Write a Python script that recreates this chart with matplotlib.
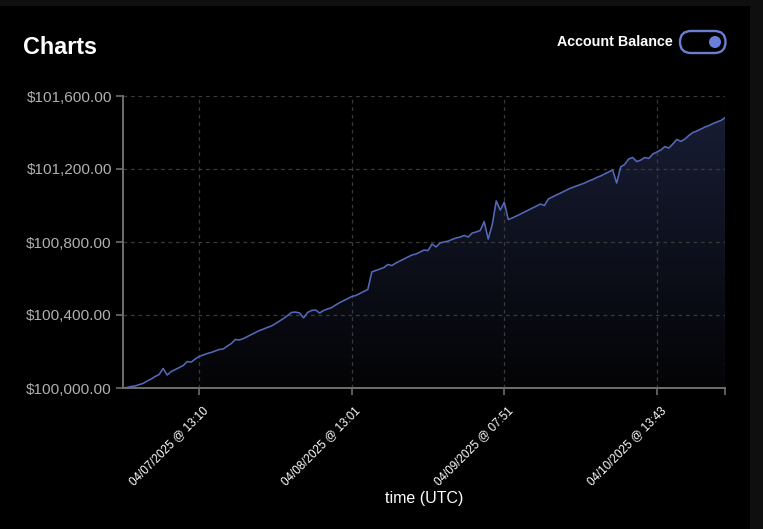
import matplotlib
matplotlib.use("Agg")
import matplotlib.pyplot as plt
import matplotlib.transforms as mtransforms
from matplotlib.patches import FancyBboxPatch, Circle, Rectangle
from matplotlib.ticker import FuncFormatter
from matplotlib.colors import LinearSegmentedColormap
import numpy as np

plt.rcParams['font.family'] = ['Liberation Sans', 'DejaVu Sans']

# Account balance series (equally spaced samples, categorical time axis)
balance = [
    100000, 100003, 100008, 100011, 100018, 100025, 100038, 100049, 100063, 100074,
    100107, 100071, 100090, 100101, 100112, 100123, 100145, 100142, 100159, 100173,
    100181, 100189, 100195, 100203, 100211, 100214, 100230, 100244, 100266, 100263,
    100271, 100282, 100293, 100304, 100315, 100323, 100332, 100340, 100353, 100367,
    100381, 100397, 100414, 100416, 100411, 100384, 100414, 100425, 100427, 100411,
    100425, 100433, 100441, 100455, 100468, 100479, 100490, 100501, 100507, 100518,
    100529, 100540, 100636, 100644, 100652, 100660, 100677, 100671, 100685, 100696,
    100707, 100718, 100729, 100734, 100745, 100756, 100753, 100789, 100773, 100795,
    100800, 100805, 100814, 100822, 100827, 100836, 100827, 100849, 100855, 100863,
    100912, 100816, 100895, 101025, 100975, 101018, 100923, 100932, 100942, 100953,
    100964, 100975, 100986, 100997, 101008, 101000, 101036, 101047, 101058, 101068,
    101079, 101090, 101099, 101107, 101115, 101123, 101134, 101142, 101153, 101162,
    101173, 101184, 101195, 101123, 101211, 101225, 101255, 101263, 101241, 101249,
    101263, 101258, 101282, 101293, 101304, 101323, 101315, 101337, 101362, 101351,
    101364, 101384, 101400, 101408, 101419, 101430, 101438, 101449, 101458, 101466,
    101481,
]
tick_index = [19, 57, 95, 133]
tick_labels = ["04/07/2025 @ 13:10", "04/08/2025 @ 13:01",
               "04/09/2025 @ 07:51", "04/10/2025 @ 13:43"]
y_ticks = [100000, 100400, 100800, 101200, 101600]

W, H = 763, 529
fig = plt.figure(figsize=(W / 100, H / 100), dpi=100)
fig.patch.set_facecolor('#0f0f0f')

# panel background
fig.add_artist(Rectangle((0, 0), 750 / W, 1 - 6 / H, transform=fig.transFigure,
                         facecolor='#000000', edgecolor='none', zorder=0))

ax = fig.add_axes([123 / W, 1 - 388 / H, (725 - 123) / W, (388 - 96) / H])
ax.set_facecolor('none')

x = np.arange(len(balance))
y = np.array(balance, dtype=float)
n_last = len(balance) - 1

# gradient fill under the line
line_color = '#5468b8'
grad = np.linspace(0, 1, 256).reshape(-1, 1)
cmap = LinearSegmentedColormap.from_list('g', ['#040406', '#171c33'])
im = ax.imshow(grad, aspect='auto', cmap=cmap, origin='lower',
               extent=[0, n_last, 100000, y.max()], zorder=1)
poly = ax.fill_between(x, 100000, y, facecolor='none', edgecolor='none')
im.set_clip_path(poly.get_paths()[0], transform=ax.transData)
ax.set_ylim(100000, 101600)
ax.set_xlim(0, n_last)

ax.plot(x, y, color=line_color, lw=1.15, zorder=3)

# grid / ticks
ax.set_yticks(y_ticks)
ax.yaxis.set_major_formatter(FuncFormatter(lambda v, p: f"${v:,.2f}"))
ax.set_xticks(tick_index + [n_last])
ax.set_xticklabels(tick_labels + [""])
ax.grid(True, color='#3a3a3a', lw=0.9, ls=(0, (3, 3)), zorder=0)

for s in ['top', 'right']:
    ax.spines[s].set_visible(False)
for s in ['left', 'bottom']:
    ax.spines[s].set_color('#6e6e6e')
    ax.spines[s].set_linewidth(1.4)
    ax.spines[s].set_zorder(4)

ax.tick_params(axis='y', colors='#6e6e6e', labelcolor='#b0b0b0', labelsize=11.1,
               length=5, width=1.2, pad=3)
ax.tick_params(axis='x', colors='#6e6e6e', labelcolor='#ffffff', labelsize=8.4,
               length=5, width=1.2, pad=0)

offset = mtransforms.ScaledTranslation(7 / 100, -14 / 100, fig.dpi_scale_trans)
for lab in ax.get_xticklabels():
    lab.set_rotation(45)
    lab.set_ha('right')
    lab.set_va('center')
    lab.set_rotation_mode('anchor')
    lab.set_transform(lab.get_transform() + offset)

ax.set_xlabel("time (UTC)", color='white', fontsize=11.5, labelpad=0)
ax.xaxis.set_label_coords(0.5, (388 - 499) / 292, transform=ax.transAxes)
ax.xaxis.label.set_va('center')

# title and toggle
fig.text(23 / W, 1 - 54 / H, "Charts", color='white', fontsize=16.8,
         fontweight='bold', ha='left', va='baseline')
fig.text(673 / W, 1 - 42.5 / H, "Account Balance", color='white', fontsize=10.3,
         fontweight='bold', ha='right', va='center')

pix = fig.add_axes([0, 0, 1, 1], facecolor='none')
pix.set_xlim(0, W)
pix.set_ylim(H, 0)
pix.axis('off')
pill = FancyBboxPatch((691, 42), 23.5, 0.01,
                      boxstyle="round,pad=11",
                      facecolor='none', edgecolor='#6a7fd4', lw=1.7)
pix.add_patch(pill)
pix.add_patch(Circle((715, 42), 6, facecolor='#6a7fd8', edgecolor='none'))

fig.savefig("out.png", dpi=100, facecolor=fig.get_facecolor())
